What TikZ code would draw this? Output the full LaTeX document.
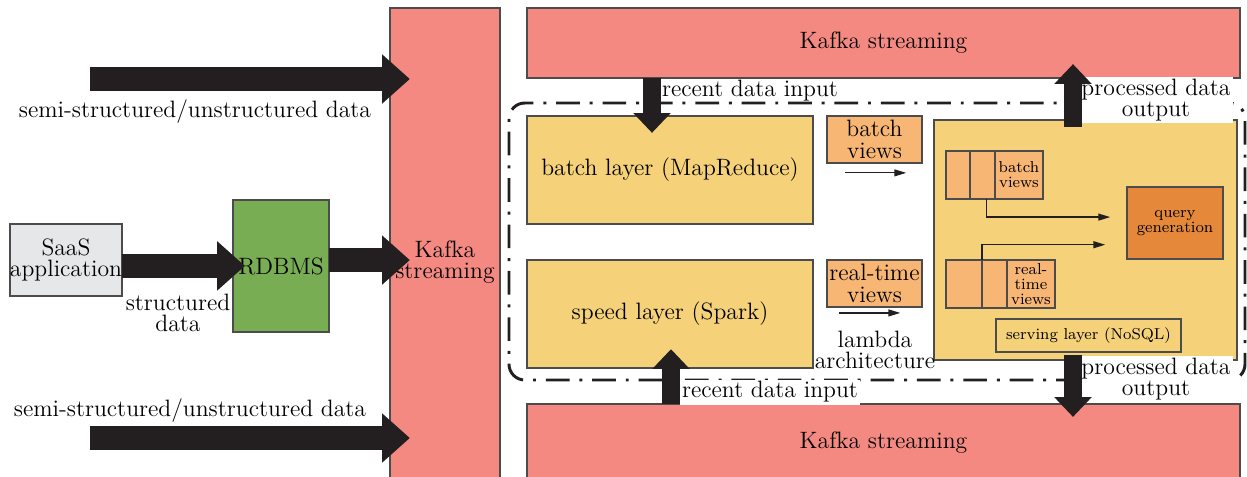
\documentclass[tikz,border=0pt]{standalone}
\usepackage{tikz}
\usetikzlibrary{arrows.meta}

\definecolor{kafkared}{RGB}{243,137,128}
\definecolor{layeryellow}{RGB}{245,210,122}
\definecolor{viewsorange}{RGB}{248,182,116}
\definecolor{querydark}{RGB}{230,136,58}
\definecolor{dbgreen}{RGB}{121,173,83}
\definecolor{saasgray}{RGB}{230,231,233}
\definecolor{arrowblack}{RGB}{35,31,32}

\begin{document}
\begin{tikzpicture}[x=0.0178cm,y=-0.0178cm,
	every node/.style={inner sep=0pt,outer sep=0pt},
	wh/.style 2 args={minimum width=#1*0.0178cm,minimum height=#2*0.0178cm},
	box/.style={draw=black!70,line width=0.6pt,align=center,font=\fontsize{12}{11}\selectfont},
	kafka/.style={box,fill=kafkared},
	layer/.style={box,fill=layeryellow},
	views/.style={box,fill=viewsorange},
	cell/.style={views,font=\fontsize{8}{7.6}\selectfont},
	lbl/.style={align=center,inner sep=1pt,font=\fontsize{12}{11}\selectfont},
	fatarrow/.style={draw=arrowblack,line width=12pt,-{Triangle[width=25pt,length=14pt,line width=0pt]}},
	fatv/.style={draw=arrowblack,line width=9.5pt,-{Triangle[width=19pt,length=10pt,line width=0pt]}},
	flow/.style={draw=arrowblack,line width=0.6pt,-{Triangle[length=6pt,width=3.5pt]}},
	lambdabox/.style={draw=arrowblack,line width=1.5pt,rounded corners=8pt,dash pattern=on 12pt off 5pt on 1.5pt off 5pt}]
\useasboundingbox (0,0) rectangle (1247,476);

% kafka streams
\node[kafka,wh={110}{508}] (kafkaL) at (445,262) {Kafka\\streaming};
\node[kafka,wh={713}{70}] (kafkaT) at (883.5,43) {Kafka streaming};
\node[kafka,wh={713}{78}] (kafkaB) at (883.5,443) {Kafka streaming};

% sources
\node[box,fill=saasgray,wh={112}{72}] (saas) at (66,260) {SaaS\\application};
\node[box,fill=dbgreen,wh={96}{132}] (rdbms) at (281,266) {RDBMS};

% lambda architecture
\node[lambdabox,wh={736}{277}] (lambda) at (877,241.5) {};
\node[layer,wh={286}{108}] (batch) at (670,170) {batch layer (MapReduce)};
\node[layer,wh={286}{108}] (speed) at (670,314) {speed layer (Spark)};
\node[views,wh={95}{47}] (bviews) at (874.5,139.5) {batch\\views};
\node[views,wh={95}{47}] (rviews) at (874.5,283.5) {real-time\\views};

% serving layer
\node[layer,wh={303}{240}] (serving) at (1085.5,240) {};
\node[cell,wh={24}{48}] (b1) at (958,175) {};
\node[cell,wh={25}{48}] (b2) at (982.5,175) {};
\node[cell,wh={48}{48}] (b3) at (1019,175) {batch\\views};
\node[cell,wh={36}{48}] (r1) at (964,284) {};
\node[cell,wh={25}{48}] (r2) at (994.5,284) {};
\node[cell,wh={48}{48}] (r3) at (1031,284) {real-\\time\\views};
\node[cell,fill=querydark,wh={96}{72}] (query) at (1175,223) {query\\generation};
\node[cell,fill=layeryellow,wh={185}{33}] (nosql) at (1088.5,335.5) {serving layer (NoSQL)};

% labels
\node[lbl] (semi1) at (195,112) {semi-structured/unstructured data};
\node[lbl] (semi2) at (190,411) {semi-structured/unstructured data};
\node[lbl] (struct) at (178,313) {structured\\data};
\node[lbl] (recent1) at (750,91) {recent data input};
\node[lbl,fill=white] (recent2) at (770,392) {recent data input};
\node[lbl,fill=white] (proc1) at (1156,100) {processed data\\output};
\node[lbl,fill=white] (proc2) at (1156,379) {processed data\\output};
\node[lbl] (lambdalbl) at (875,350) {lambda\\architecture};

% fat arrows
\coordinate (src1) at (90,79);
\coordinate (src2) at (90,438);
\draw[fatarrow,shorten >=-10pt] (src1) -- (src1 -| kafkaL.west);
\draw[fatarrow,shorten >=-10pt] (src2) -- (src2 -| kafkaL.west);
\draw[fatarrow,shorten >=-6pt] ([yshift=-3pt]saas.east) -- ([yshift=-3pt]saas.east -| rdbms.west);
\draw[fatarrow,shorten >=-10pt] ([yshift=3pt]rdbms.east) -- ([yshift=3pt]rdbms.east -| kafkaL.west);

\coordinate (rin1) at (652,78);
\coordinate (rin2) at (671,404);
\coordinate (pout1) at (1073,127);
\coordinate (pout2) at (1073,355);
\draw[fatv,shorten >=-8.5pt] (rin1) -- (rin1 |- batch.north);
\draw[fatv,shorten >=-9.5pt] (rin2) -- (rin2 |- speed.south);
\draw[fatv,shorten >=-7pt] (pout1) -- (pout1 |- kafkaT.south);
\draw[fatv,shorten >=-6.5pt] (pout2) -- (pout2 |- kafkaB.north);

% thin arrows
\draw[flow] ([xshift=9pt,yshift=-5pt]bviews.south west) -- ([xshift=-8pt,yshift=-5pt]bviews.south east);
\draw[flow] ([xshift=6pt,yshift=-3pt]rviews.south west) -- ([xshift=-11pt,yshift=-3pt]rviews.south east);
\draw[flow] ([xshift=2pt]b2.south) |- ([xshift=-8.5pt,yshift=3pt]query.west);
\draw[flow] (r2.north west) |- ([xshift=-11pt,yshift=-11pt]query.west);
\end{tikzpicture}
\end{document}
